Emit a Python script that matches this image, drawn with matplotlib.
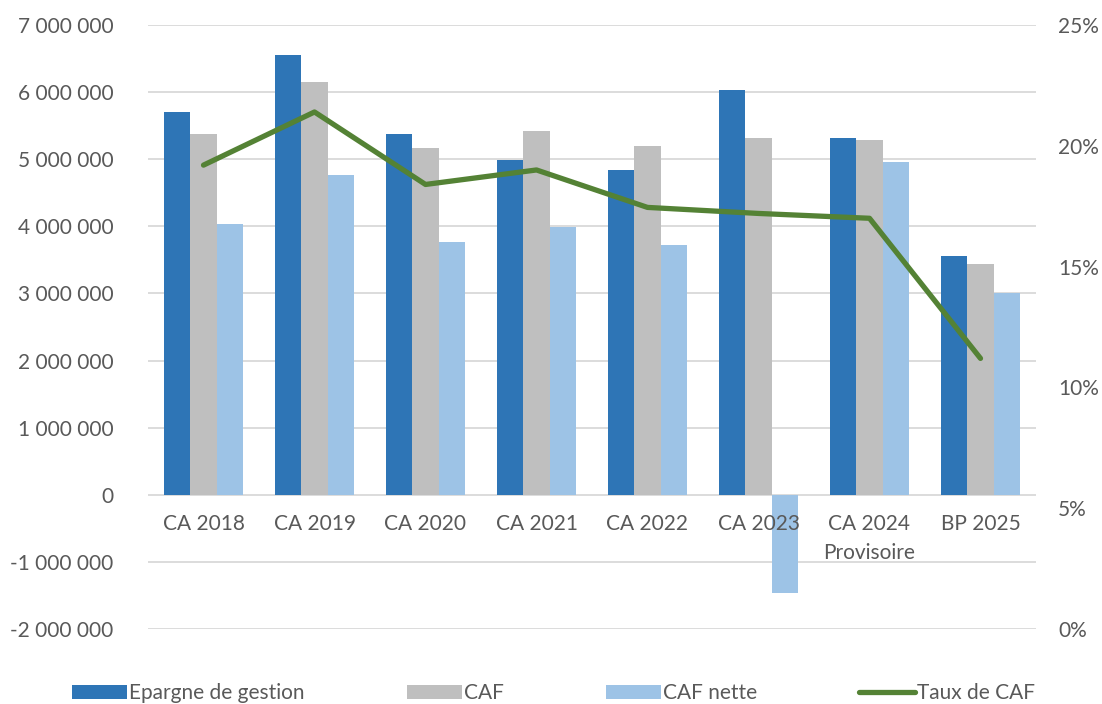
import numpy as np
import matplotlib
matplotlib.use("Agg")
import matplotlib.pyplot as plt
from matplotlib.ticker import FuncFormatter

categories = ["CA 2018", "CA 2019", "CA 2020", "CA 2021", "CA 2022", "CA 2023",
              "CA 2024\nProvisoire", "BP 2025"]
epargne = [5700000, 6560000, 5380000, 4990000, 4840000, 6030000, 5320000, 3560000]
caf = [5380000, 6150000, 5170000, 5420000, 5190000, 5320000, 5290000, 3440000]
caf_nette = [4040000, 4770000, 3760000, 3990000, 3720000, -1460000, 4960000, 3010000]
taux = [19.2, 21.4, 18.4, 19.0, 17.45, 17.2, 17.0, 11.2]

plt.rcParams['font.family'] = ['Lato', 'DejaVu Sans']
txt = '#595959'

fig = plt.figure(figsize=(11.02, 7.04), dpi=100)
ax = fig.add_axes([148 / 1102, 1 - 629 / 704, 888 / 1102, 604 / 704])

x = np.arange(len(categories))
w = 0.235
ax.bar(x - w, epargne, w, color='#2E75B6', label='Epargne de gestion', zorder=2)
ax.bar(x, caf, w, color='#BFBFBF', label='CAF', zorder=2)
ax.bar(x + w, caf_nette, w, color='#9DC3E6', label='CAF nette', zorder=2)

ax.set_xlim(-0.5, len(categories) - 0.5)
ax.set_ylim(-2000000, 7000000)
ax.set_yticks(np.arange(-2000000, 7000001, 1000000))
ax.yaxis.set_major_formatter(FuncFormatter(lambda v, p: f"{int(v):,}".replace(",", " ")))
ax.grid(axis='y', color='#D9D9D9', linewidth=1.3)
ax.set_axisbelow(True)
ax.xaxis.set_zorder(5)
ax.spines['bottom'].set_position(('data', 0))
ax.set_xticks(x)
ax.set_xticklabels(categories, linespacing=1.55)
ax.tick_params(axis='x', length=0, pad=14, labelsize=15, colors=txt)
ax.tick_params(axis='y', length=0, pad=25, labelsize=15, colors=txt)
for s in ax.spines.values():
    s.set_visible(False)

ax2 = ax.twinx()
ax2.plot(x, taux, color='#548235', linewidth=3.8, solid_capstyle='round', label='Taux de CAF')
ax2.set_ylim(0, 25)
ax2.set_yticks(np.arange(0, 26, 5))
ax2.yaxis.set_major_formatter(FuncFormatter(lambda v, p: f"{int(v)}%"))
ax2.tick_params(axis='y', length=0, pad=16, labelsize=15, colors=txt)
for s in ax2.spines.values():
    s.set_visible(False)

h1, l1 = ax.get_legend_handles_labels()
h2, l2 = ax2.get_legend_handles_labels()
leg = fig.legend(h1 + h2, l1 + l2, loc='center', bbox_to_anchor=(0.502, 0.015), ncol=4,
                 frameon=False, fontsize=15, handlelength=2.65, handleheight=0.7,
                 handletextpad=0.1, columnspacing=4.9, borderaxespad=0)
for t in leg.get_texts():
    t.set_color(txt)

fig.savefig('out.png', dpi=100)
